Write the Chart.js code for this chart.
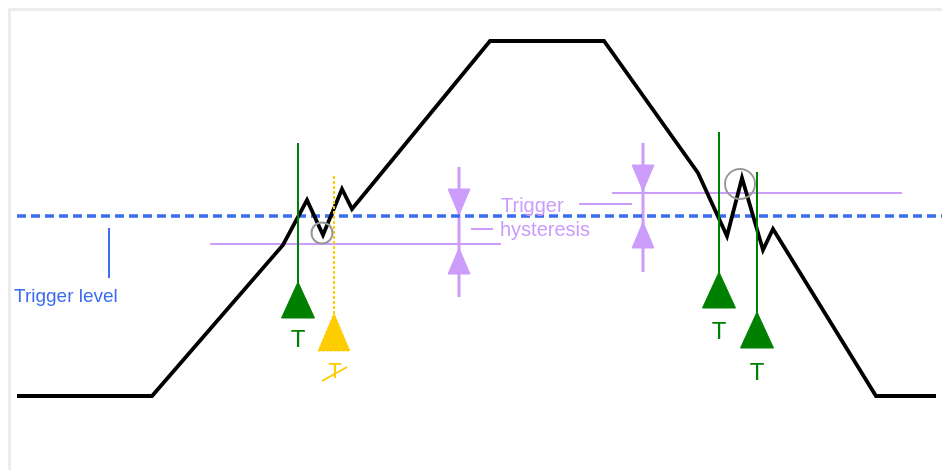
<!DOCTYPE html>
<html>
<head>
<meta charset="utf-8">
<script src="https://cdn.jsdelivr.net/npm/chart.js@4"></script>
<style>
  body { margin: 0; background: #fff; }
  #wrap { position: relative; width: 942px; height: 470px; overflow: hidden; }
  #frame { position: absolute; left: 8px; top: 8px; width: 1000px; height: 1000px; border: 3px solid #ececec; }
  #diagram { position: absolute; left: 0; top: 0; }
</style>
</head>
<body>
<div id="wrap">
  <div id="frame"></div>
  <canvas id="diagram" width="942" height="470"></canvas>
</div>
<script>
// signal waveform (time, level) – level axis points down like the picture
const waveX = [17, 152, 283, 307, 323, 342, 352, 490, 604, 698, 727, 742, 763, 773, 876, 936];
const waveY = [396, 396, 245, 200, 235, 189, 209, 41, 41, 173, 236, 178, 250, 229, 396, 396];

const triggerLevel = 216;
const triggerSpan = [17, 942];

// hysteresis bands: [xStart, xEnd, level]
const hystX1 = [210, 612];
const hystX2 = [501, 902];
const hystLevel = [244, 193];

// hysteresis arrows
const arrowX = [459, 643];
const arrowTop = [167, 143];
const arrowBottom = [297, 272];
const arrowUpperTip = [215, 191];
const arrowLowerTip = [248, 222];

// valid triggers (green)
const trigX = [298, 719, 757];
const trigTop = [143, 132, 172];
const trigBase = [318, 308, 348];

// rejected trigger (yellow)
const rejX = [334];
const rejTop = [176];
const rejBase = [351];

// glitch circles: x, level, radius
const circX = [322, 740];
const circY = [233, 184];
const circR = [10.5, 15];

// text labels
const labelText = ['Trigger level', 'Trigger', 'hysteresis', 'T', 'T', 'T', 'T'];
const labelX = [14, 501, 500, 298, 719, 757, 335];
const labelY = [302, 212, 236, 347, 339, 380, 378];

const BLUE = '#3a6cf0';
const PURPLE = '#cc9cfa';
const GREEN = '#008000';
const YELLOW = '#ffcc00';

function seg(x1, y1, x2, y2) {
    return [{x: x1, y: y1}, {x: x2, y: y2}];
}
function tri(x, base, w, h, up) {
    const tip = up ? base - h : base + h;
    return [{x: x - w / 2, y: base}, {x: x, y: tip}, {x: x + w / 2, y: base}, {x: x - w / 2, y: base}];
}
function lineSet(data, color, width, order, dash) {
    return {data: data, showLine: true, borderColor: color, borderWidth: width, pointRadius: 0,
        fill: false, tension: 0, order: order, borderDash: dash || []};
}
function shapeSet(data, color, order, dash) {
    return {data: data, showLine: true, borderColor: color, backgroundColor: color, borderWidth: 1,
        pointRadius: 0, fill: 'shape', tension: 0, order: order, borderDash: dash || []};
}

const datasets = [];

// hysteresis lines
for (let i = 0; i < hystLevel.length; i++) {
    datasets.push(lineSet(seg(hystX1[i], hystLevel[i], hystX2[i], hystLevel[i]), PURPLE, 2, 60));
}
// leader lines of the label
datasets.push(lineSet(seg(471, 229, 493, 229), PURPLE, 2, 60));
datasets.push(lineSet(seg(579, 204, 632, 204), PURPLE, 2, 60));

// arrows
for (let i = 0; i < arrowX.length; i++) {
    datasets.push(lineSet(seg(arrowX[i], arrowTop[i], arrowX[i], arrowBottom[i]), PURPLE, 3, 55));
    datasets.push(shapeSet(tri(arrowX[i], arrowUpperTip[i] - 26, 22, 26, false), PURPLE, 54));
    datasets.push(shapeSet(tri(arrowX[i], arrowLowerTip[i] + 26, 22, 26, true), PURPLE, 54));
}

// trigger level
datasets.push(lineSet(seg(triggerSpan[0], triggerLevel, triggerSpan[1], triggerLevel), BLUE, 3.5, 50, [9, 5]));
datasets.push(lineSet(seg(109, 228, 109, 278), BLUE, 2, 50));

// waveform
datasets.push(lineSet(waveX.map((x, i) => ({x: x, y: waveY[i]})), '#000', 3.8, 40));

// triggers
for (let i = 0; i < trigX.length; i++) {
    datasets.push(lineSet(seg(trigX[i], trigTop[i], trigX[i], trigBase[i] - 30), GREEN, 2, 30));
    datasets.push(shapeSet(tri(trigX[i], trigBase[i], 33, 36, true), GREEN, 29));
}
for (let i = 0; i < rejX.length; i++) {
    datasets.push(lineSet(seg(rejX[i], rejTop[i], rejX[i], rejBase[i] - 30), YELLOW, 2, 30, [3, 2]));
    datasets.push(shapeSet(tri(rejX[i], rejBase[i], 32, 38, true), YELLOW, 29, [2, 2]));
    datasets.push(lineSet(seg(322, 381, 347, 367), YELLOW, 2, 20));
}

// glitch circles
for (let i = 0; i < circX.length; i++) {
    datasets.push({data: [{x: circX[i], y: circY[i]}], showLine: false, pointStyle: 'circle',
        pointRadius: circR[i], pointBorderColor: '#999', pointBackgroundColor: 'rgba(0,0,0,0)',
        pointBorderWidth: 2, order: 10});
}

const labelStyle = [
    {color: BLUE, font: '19px "Liberation Sans", Arial, sans-serif', align: 'left'},
    {color: PURPLE, font: '20px "Liberation Sans", Arial, sans-serif', align: 'left'},
    {color: PURPLE, font: '20px "Liberation Sans", Arial, sans-serif', align: 'left'},
    {color: GREEN, font: '24px "Liberation Sans", Arial, sans-serif', align: 'center'},
    {color: GREEN, font: '24px "Liberation Sans", Arial, sans-serif', align: 'center'},
    {color: GREEN, font: '24px "Liberation Sans", Arial, sans-serif', align: 'center'},
    {color: YELLOW, font: '22px "Liberation Sans", Arial, sans-serif', align: 'center'}
];

const labelPlugin = {
    id: 'labels',
    afterDatasetsDraw(chart) {
        const ctx = chart.ctx;
        const xs = chart.scales.x, ys = chart.scales.y;
        ctx.save();
        ctx.textBaseline = 'alphabetic';
        labelText.forEach((t, i) => {
            const st = labelStyle[i];
            ctx.fillStyle = st.color;
            ctx.font = st.font;
            ctx.textAlign = st.align;
            ctx.fillText(t, xs.getPixelForValue(labelX[i]), ys.getPixelForValue(labelY[i]));
        });
        ctx.restore();
    }
};

new Chart(document.getElementById('diagram').getContext('2d'), {
    type: 'scatter',
    data: {datasets: datasets},
    options: {
        responsive: false,
        animation: false,
        layout: {padding: 0, autoPadding: false},
        plugins: {legend: {display: false}, tooltip: {enabled: false}},
        scales: {
            x: {type: 'linear', min: 0, max: 942, display: false},
            y: {type: 'linear', min: 0, max: 470, reverse: true, display: false}
        }
    },
    plugins: [labelPlugin]
});
</script>
</body>
</html>
